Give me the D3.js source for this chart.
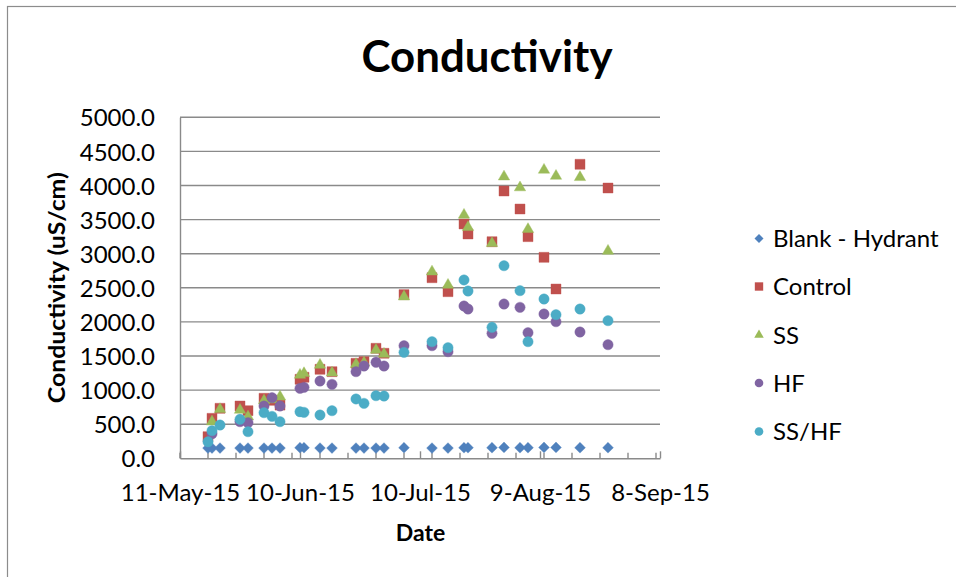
<!DOCTYPE html>
<html>
<head>
<meta charset="utf-8">
<script src="https://cdn.jsdelivr.net/npm/d3@7"></script>
<style>
  html, body { margin: 0; padding: 0; background: #fff; }
  svg { display: block; }
  text { font-family: Lato, "Open Sans", sans-serif; fill: #000; }
</style>
</head>
<body>
<svg id="chart" width="956" height="577"></svg>
<script>
// Sampling dates (shared by all series)
const dates = [
  "2015-05-18", "2015-05-19", "2015-05-21", "2015-05-26", "2015-05-28",
  "2015-06-01", "2015-06-03", "2015-06-05", "2015-06-10", "2015-06-11",
  "2015-06-15", "2015-06-18", "2015-06-24", "2015-06-26", "2015-06-29",
  "2015-07-01", "2015-07-06", "2015-07-13", "2015-07-17", "2015-07-21",
  "2015-07-22", "2015-07-28", "2015-07-31", "2015-08-04", "2015-08-06",
  "2015-08-10", "2015-08-13", "2015-08-19", "2015-08-26"
];

// Conductivity readings, uS/cm (null = not measured)
const blankHydrant = [150, 150, 150, 150, 150, 150, 150, 150, 155, 155,
  150, 150, 150, 150, 150, 150, 155, 150, 150, 155,
  155, 155, 160, 155, 155, 160, 160, 155, 155];
const control = [317, 586, 733, 767, 698, 880, 850, 780, 1158, 1188,
  1305, 1270, 1393, 1417, 1613, 1540, 2400, 2648, 2443, 3436,
  3289, 3176, 3919, 3655, 3250, 2947, 2482, 4311, 3963];
const ss = [null, 537, 718, 708, 610, 845, 860, 903, 1222, 1246,
  1368, 1255, 1378, 1402, 1588, 1529, 2370, 2736, 2541, 3568,
  3387, 3152, 4129, 3970, 3358, 4228, 4139, 4120, 3040];
const hf = [null, 360, null, 537, 522, 767, 889, 767, 1026, 1041,
  1133, 1085, 1270, 1353, 1408, 1353, 1651, 1651, 1563, 2233,
  2189, 1833, 2262, 2214, 1842, 2116, 2003, 1852, 1666];
const ssHf = [243, 405, 488, 572, 390, 669, 615, 537, 683, 674,
  635, 698, 870, 806, 918, 913, 1554, 1710, 1622, 2615,
  2453, 1921, 2824, 2458, 1710, 2336, 2106, 2189, 2018];

const seriesNames = ["Blank - Hydrant", "Control", "SS", "HF", "SS/HF"];
const seriesValues = [blankHydrant, control, ss, hf, ssHf];
const seriesColors = ["#4F81BD", "#C0504D", "#9BBB59", "#8064A2", "#4BACC6"];

const yTicks = [0, 500, 1000, 1500, 2000, 2500, 3000, 3500, 4000, 4500, 5000];
const xMajorTicks = ["2015-05-11", "2015-06-10", "2015-07-10", "2015-08-09", "2015-09-08"];

// ---- layout ----
const plot = { left: 180, right: 660, top: 117.3, bottom: 458.3 };
const gridColor = "#8a8a8a";

const svg = d3.select("#chart");
const parse = d3.utcParse("%Y-%m-%d");
const majorDates = xMajorTicks.map(parse);

const x = d3.scaleUtc()
  .domain([majorDates[0], majorDates[majorDates.length - 1]])
  .range([plot.left, plot.right]);
const y = d3.scaleLinear()
  .domain([0, 5000])
  .range([plot.bottom, plot.top]);

// chart frame
svg.append("rect")
  .attr("x", 7.5).attr("y", 6.5)
  .attr("width", 1200).attr("height", 1000)
  .attr("fill", "#fff").attr("stroke", "#8c8c8c").attr("stroke-width", 1.2);

// title
svg.append("text")
  .attr("x", 487).attr("y", 72)
  .attr("text-anchor", "middle")
  .attr("font-weight", "bold")
  .attr("font-size", 43)
  .attr("textLength", 251).attr("lengthAdjust", "spacingAndGlyphs")
  .text("Conductivity");

// horizontal gridlines
svg.append("g")
  .selectAll("line")
  .data(yTicks.filter(v => v > 0))
  .join("line")
  .attr("x1", plot.left).attr("x2", plot.right)
  .attr("y1", d => y(d)).attr("y2", d => y(d))
  .attr("stroke", gridColor).attr("stroke-width", 1.4);

// y axis
const yAxis = svg.append("g")
  .attr("transform", `translate(${plot.left},0)`)
  .call(d3.axisLeft(y).tickValues(yTicks).tickSize(0).tickPadding(25)
    .tickFormat(d3.format(".1f")));
yAxis.select(".domain").attr("stroke", gridColor).attr("stroke-width", 1.4);
yAxis.selectAll("text")
  .attr("font-size", 24)
  .attr("font-family", "Lato, sans-serif")
  .attr("fill", "#000")
  .attr("dy", "0.36em");

// x axis: minor ticks every 7 days, major ticks every 30 days
const minorDates = d3.utcDay.range(majorDates[0], d3.utcDay.offset(majorDates[4], 1), 7);
svg.append("g")
  .selectAll("line")
  .data(minorDates)
  .join("line")
  .attr("x1", d => x(d)).attr("x2", d => x(d))
  .attr("y1", plot.bottom).attr("y2", plot.bottom - 5.5)
  .attr("stroke", gridColor).attr("stroke-width", 1.4);

const xAxis = svg.append("g")
  .attr("transform", `translate(0,${plot.bottom})`)
  .call(d3.axisBottom(x).tickValues(majorDates).tickSizeInner(-7).tickSizeOuter(0)
    .tickFormat(d3.utcFormat("%-d-%b-%y")));
xAxis.select(".domain").attr("stroke", gridColor).attr("stroke-width", 1.4);
xAxis.selectAll(".tick line").attr("stroke", gridColor).attr("stroke-width", 1.4);
xAxis.selectAll("text")
  .attr("font-size", 24)
  .attr("font-family", "Lato, sans-serif")
  .attr("fill", "#000")
  .attr("y", 42.7).attr("dy", 0);

// axis titles
svg.append("text")
  .attr("transform", "translate(65,287.7) rotate(-90)")
  .attr("text-anchor", "middle")
  .attr("font-weight", "bold")
  .attr("font-size", 23.5)
  .attr("textLength", 231).attr("lengthAdjust", "spacingAndGlyphs")
  .text("Conductivity (uS/cm)");

svg.append("text")
  .attr("x", 420.5).attr("y", 541)
  .attr("text-anchor", "middle")
  .attr("font-weight", "bold")
  .attr("font-size", 23)
  .text("Date");

// marker shapes
const diamond = {
  draw(ctx, size) {
    const r = Math.sqrt(size / 2);
    ctx.moveTo(0, -r); ctx.lineTo(r, 0); ctx.lineTo(0, r); ctx.lineTo(-r, 0); ctx.closePath();
  }
};
const shapes = [
  { type: diamond, size: 58 },
  { type: d3.symbolSquare, size: 100 },
  { type: d3.symbolTriangle, size: 56 },
  { type: d3.symbolCircle, size: 84 },
  { type: d3.symbolCircle, size: 84 }
];

const dateValues = dates.map(parse);

seriesValues.forEach((vals, i) => {
  const pts = vals.map((v, j) => ({ date: dateValues[j], value: v })).filter(p => p.value != null);
  const sym = d3.symbol().type(shapes[i].type).size(shapes[i].size);
  svg.append("g")
    .attr("class", "series")
    .selectAll("path")
    .data(pts)
    .join("path")
    .attr("d", sym)
    .attr("transform", d => `translate(${x(d.date)},${y(d.value)})`)
    .attr("fill", seriesColors[i])
    .attr("stroke", seriesColors[i])
    .attr("stroke-opacity", 0.5)
    .attr("stroke-width", 0.8);
});

// legend
const legend = svg.append("g");
const legendRows = [238.5, 286.5, 335, 383, 431.5];
seriesNames.forEach((name, i) => {
  const row = legend.append("g").attr("transform", `translate(759,${legendRows[i]})`);
  row.append("path")
    .attr("d", d3.symbol().type(shapes[i].type).size(shapes[i].size * 0.7))
    .attr("fill", seriesColors[i]);
  row.append("text")
    .attr("x", 14).attr("dy", "0.36em")
    .attr("font-size", 24)
    .text(name);
});
</script>
</body>
</html>
